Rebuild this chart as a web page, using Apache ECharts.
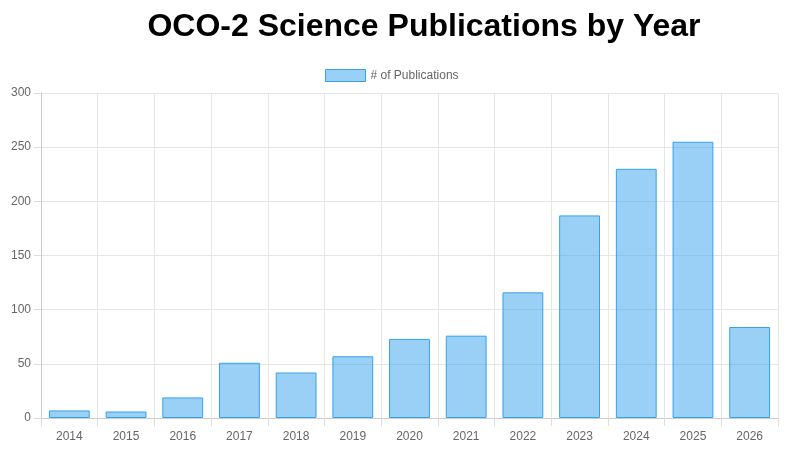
<!DOCTYPE html>
<html><head><meta charset="utf-8">
<script src="https://cdn.jsdelivr.net/npm/echarts@6/dist/echarts.min.js"></script>
<style>html,body{margin:0;padding:0;background:#fff}#c{width:786px;height:453px}</style>
</head><body><div id="c"></div>
<script>
const categories = ['2014','2015','2016','2017','2018','2019','2020','2021','2022','2023','2024','2025','2026'];
const publications = [7, 6, 19, 51, 42, 57, 73, 76, 116, 187, 230, 255, 84];
const yTicks = [0, 50, 100, 150, 200, 250, 300];

const chart = echarts.init(document.getElementById('c'), null, {renderer: 'canvas'});
chart.setOption({
  animation: false,
  title: {
    text: 'OCO-2 Science Publications by Year',
    left: 419, top: 6, textAlign: 'center',
    textStyle: {fontFamily: 'Liberation Sans, Arial, sans-serif', fontSize: 32, fontWeight: 'bold', color: '#000'}
  },
  legend: {
    data: ['# of Publications'],
    left: 320, top: 64,
    icon: 'rect',
    itemWidth: 40, itemHeight: 12, itemGap: 6,
    itemStyle: {borderWidth: 1, borderColor: 'rgb(54,162,235)'},
    textStyle: {fontFamily: 'Liberation Sans, Arial, sans-serif', fontSize: 12, color: '#666'}
  },
  grid: {left: 41, right: 8, top: 93, bottom: 35, containLabel: false},
  xAxis: {
    type: 'category', data: categories,
    axisLine: {show: true, lineStyle: {color: '#ccc'}},
    axisTick: {show: true, length: 8, lineStyle: {color: '#ddd'}},
    splitLine: {show: true, lineStyle: {color: '#e6e6e6'}},
    axisLabel: {fontFamily: 'Liberation Sans, Arial, sans-serif', fontSize: 12, color: '#666', margin: 13}
  },
  yAxis: {
    type: 'value', min: yTicks[0], max: yTicks[yTicks.length-1], interval: 50,
    axisLine: {show: true, lineStyle: {color: '#ccc'}},
    axisTick: {show: true, length: 7, lineStyle: {color: '#ddd'}},
    splitLine: {show: true, lineStyle: {color: '#e6e6e6'}},
    axisLabel: {fontFamily: 'Liberation Sans, Arial, sans-serif', fontSize: 12, color: '#666', margin: 10}
  },
  series: [{
    name: '# of Publications', type: 'bar', data: publications,
    barCategoryGap: '28%',
    itemStyle: {color: 'rgba(54,162,235,0.5)', borderColor: 'rgb(54,162,235)', borderWidth: 1}
  }]
});
</script></body></html>
